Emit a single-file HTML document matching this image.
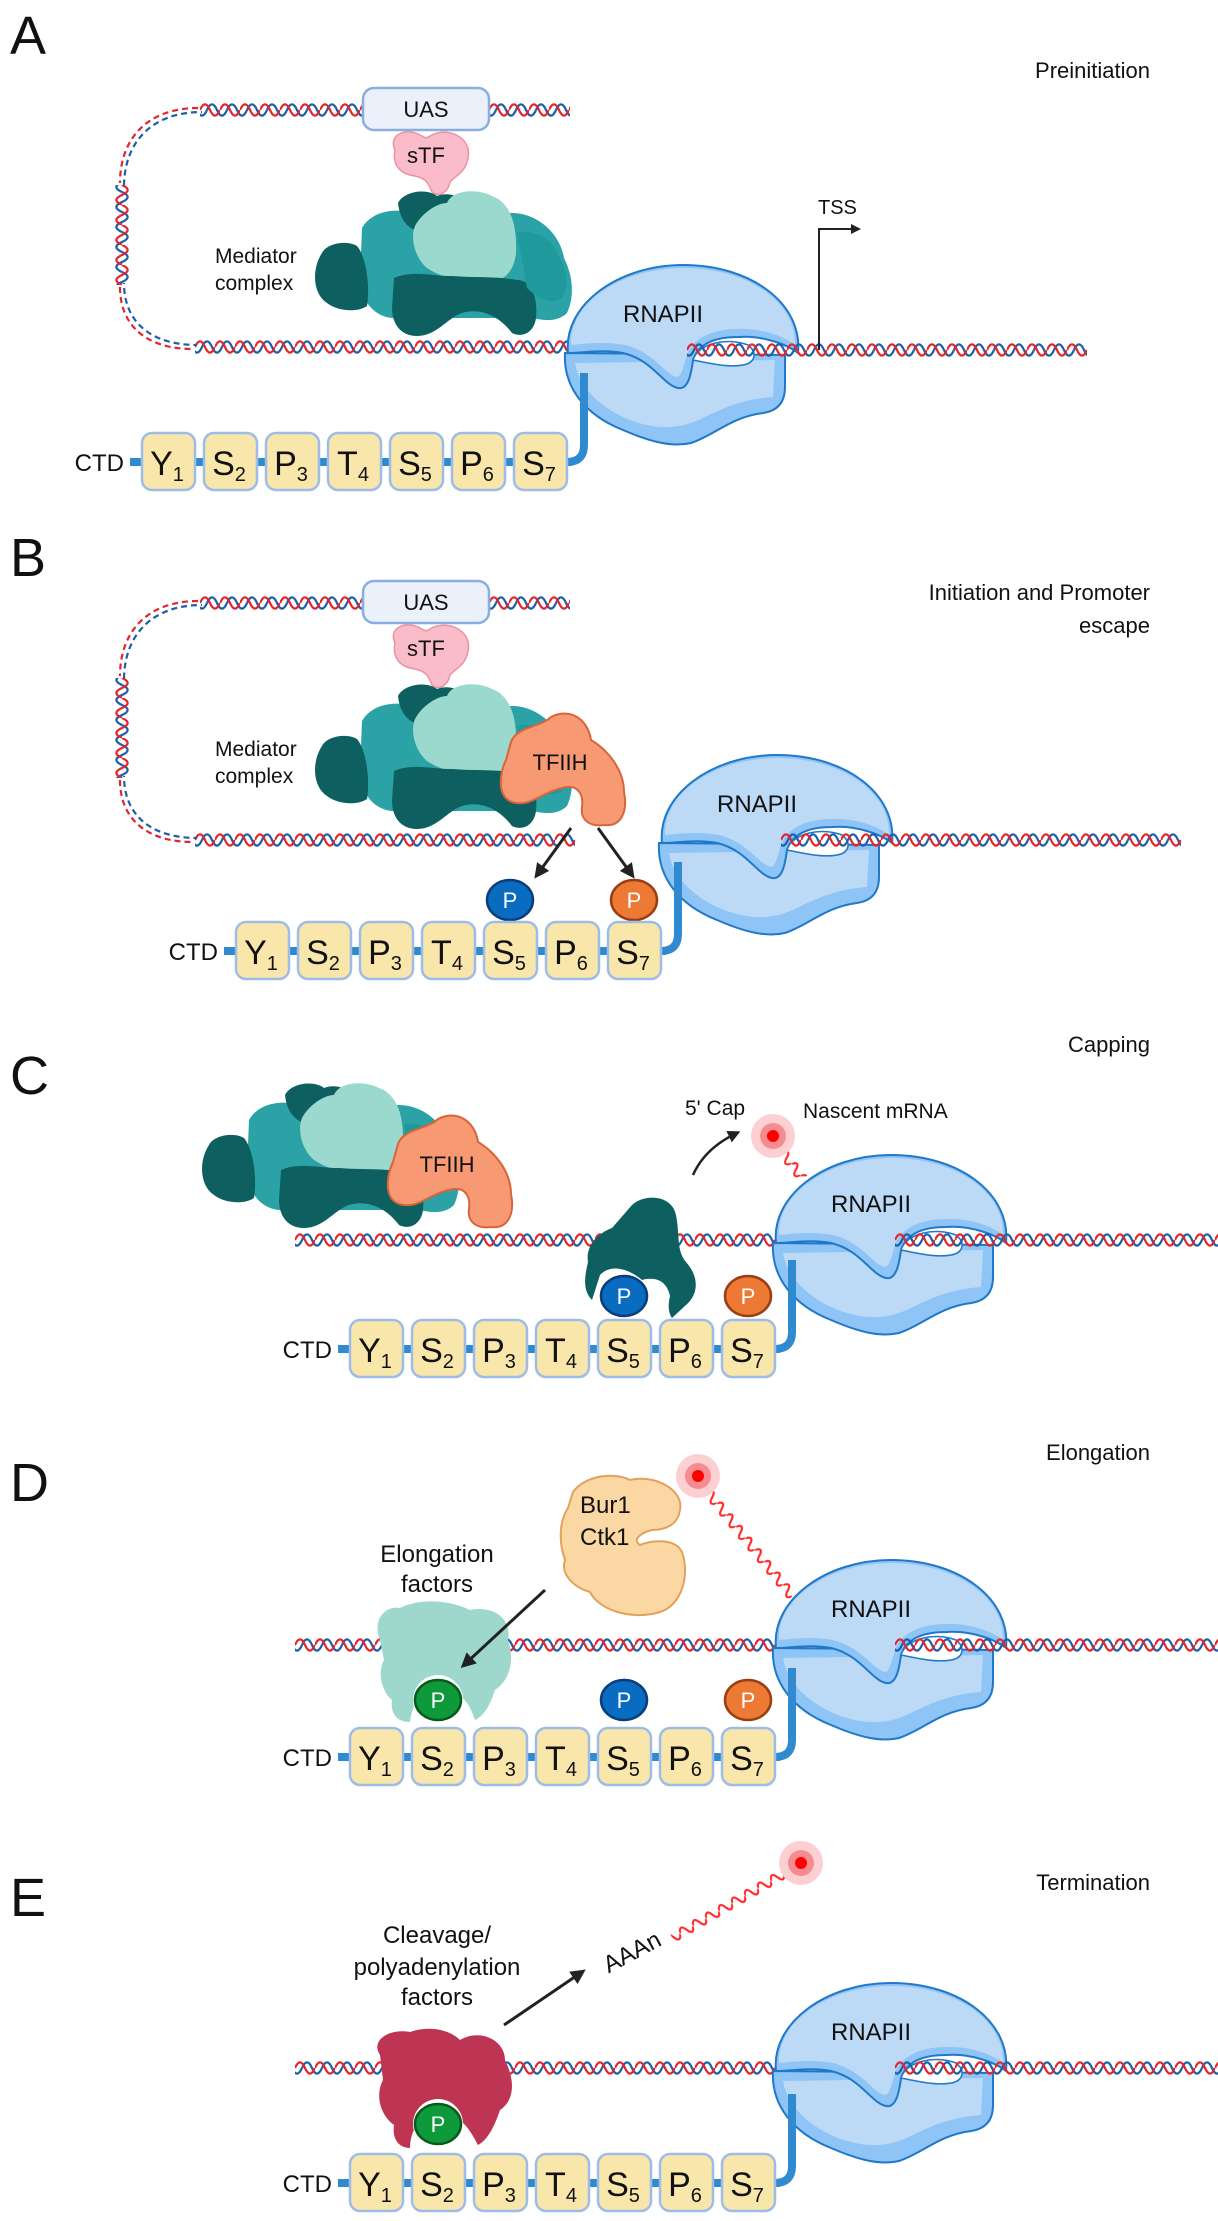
<!DOCTYPE html>
<html><head><meta charset="utf-8">
<style>
html,body{margin:0;padding:0;background:#fff;}
svg{display:block;}
text{font-family:"Liberation Sans",sans-serif;fill:#111;}
.lbl{font-size:21px;}
.ttl{font-size:22px;text-anchor:end;}
.big{font-size:54px;font-family:"Liberation Sans Narrow","Liberation Sans",sans-serif;}
.pt{font-size:22px;fill:#fff;text-anchor:middle;}
.bx{font-size:34px;text-anchor:middle;}
</style></head>
<body>
<svg width="1218" height="2221" viewBox="0 0 1218 2221" xmlns="http://www.w3.org/2000/svg">
<defs>
 <pattern id="dna" x="0" y="-7" width="20" height="14" patternUnits="userSpaceOnUse">
  <path d="M0,7 C3.3,-0.5 6.7,-0.5 10,7 S16.7,14.5 20,7" fill="none" stroke="#1d5fa8" stroke-width="2.2" transform="translate(7,0)"/>
  <path d="M0,7 C3.3,-0.5 6.7,-0.5 10,7 S16.7,14.5 20,7" fill="none" stroke="#1d5fa8" stroke-width="2.2" transform="translate(-13,0)"/>
  <path d="M0,7 C3.3,-0.5 6.7,-0.5 10,7 S16.7,14.5 20,7" fill="none" stroke="#e3262c" stroke-width="2.2"/>
 </pattern>
 <pattern id="rna" x="0" y="-6" width="15" height="12" patternUnits="userSpaceOnUse">
  <path d="M0,6 C2.5,0 5,0 7.5,6 S12.5,12 15,6" fill="none" stroke="#ff2a2a" stroke-width="2.2"/>
 </pattern>
 <marker id="ah" viewBox="0 0 10 10" refX="7" refY="5" markerWidth="5" markerHeight="5" orient="auto"><path d="M0,0 L10,5 L0,10 Z" fill="#222"/></marker>
 <g id="rnap">
  <path d="M2,88 C0,122 22,150 60,165 C90,178 110,182 128,178 C152,170 168,152 200,148 C214,146 222,138 222,122 L222,90 Z" fill="#8ec4f6" stroke="#1f78c8" stroke-width="2"/>
  <path d="M12,98 C16,124 42,148 76,158 C100,165 120,163 140,153 C162,142 182,134 210,132 L212,95 Z" fill="#bcd9f6"/>
  <path d="M5,88 C0,40 55,0 120,0 C190,0 240,40 235,88 C225,80 200,70 175,72 C150,72 135,80 130,95 C128,110 125,125 115,123 C100,120 90,95 60,88 C40,84 20,88 5,88 Z" fill="#8ec4f6" stroke="#1f78c8" stroke-width="2"/>
  <path d="M8,80 C6,38 58,3 120,3 C186,3 234,38 232,80 C222,72 200,63 175,64 C148,64 130,74 124,90 C120,104 118,112 114,112 C102,110 92,88 62,80 C40,76 20,79 8,80 Z" fill="#bcd9f6"/>
  <path d="M130,95 C135,78 165,72 185,80 C195,88 192,98 180,100 C165,103 145,98 130,95 Z" fill="#fff" stroke="#1f78c8" stroke-width="1.5"/>
  <text x="60" y="57" style="font-size:24px">RNAPII</text>
 </g>
 <g id="med">
  <path d="M50,40 C60,22 85,20 100,25 L200,25 C225,25 248,45 252,70 C262,90 262,110 255,125 C245,135 230,132 220,130 L80,130 C60,128 48,110 48,90 Z" fill="#2ba3a6"/>
  <path d="M10,65 C15,55 35,52 45,58 C55,70 58,100 55,118 C45,125 25,123 15,115 C0,105 0,80 10,65 Z" fill="#0e5f5f"/>
  <path d="M86,15 C92,3 115,0 125,8 C140,2 158,12 158,28 C150,45 130,45 115,44 C100,45 88,35 86,15 Z" fill="#0e5f5f"/>
  <path d="M103,38 C110,25 125,15 135,15 C140,2 165,0 180,8 C200,15 205,40 204,65 C202,85 190,95 175,93 C150,95 130,90 115,80 C103,70 98,50 103,38 Z" fill="#9bd9cf"/>
  <path d="M82,90 C100,82 120,88 140,88 C165,90 185,88 205,92 C220,92 226,110 224,130 C222,145 210,150 200,145 C185,125 165,120 150,125 C135,130 125,148 105,148 C88,148 80,135 80,120 Z" fill="#0e5f5f"/>
  <path d="M205,45 C220,40 240,50 245,65 C255,80 258,100 250,110 C240,118 225,110 215,100 Z" fill="#1f9a9c"/>
 </g>
 <path id="tfiih" d="M15,30 C20,15 45,15 55,5 C75,-5 92,8 95,28 C112,38 128,58 128,80 C132,100 125,115 108,113 C94,115 84,108 86,95 C88,80 80,72 66,76 C46,80 34,96 16,90 C0,84 4,60 10,48 Z" fill="#f79a74" stroke="#d9643a" stroke-width="2"/>
 <g id="ctd">
  <text x="-18" y="38" text-anchor="end" style="font-size:24px">CTD</text>
  <path d="M-12,29 L430,29" stroke="#2f8ad0" stroke-width="8"/>
  <path d="M425,29 Q442,29 442,12 L442,-60" stroke="#2f8ad0" stroke-width="8" fill="none"/>
  <g fill="#f9e6ab" stroke="#9dbde8" stroke-width="2.5">
   <rect x="0" y="0" width="53" height="57" rx="10"/><rect x="62" y="0" width="53" height="57" rx="10"/><rect x="124" y="0" width="53" height="57" rx="10"/><rect x="186" y="0" width="53" height="57" rx="10"/><rect x="248" y="0" width="53" height="57" rx="10"/><rect x="310" y="0" width="53" height="57" rx="10"/><rect x="372" y="0" width="53" height="57" rx="10"/>
  </g>
  <text x="25" y="42" class="bx">Y<tspan dy="6" style="font-size:20px">1</tspan></text>
  <text x="87" y="42" class="bx">S<tspan dy="6" style="font-size:20px">2</tspan></text>
  <text x="149" y="42" class="bx">P<tspan dy="6" style="font-size:20px">3</tspan></text>
  <text x="211" y="42" class="bx">T<tspan dy="6" style="font-size:20px">4</tspan></text>
  <text x="273" y="42" class="bx">S<tspan dy="6" style="font-size:20px">5</tspan></text>
  <text x="335" y="42" class="bx">P<tspan dy="6" style="font-size:20px">6</tspan></text>
  <text x="397" y="42" class="bx">S<tspan dy="6" style="font-size:20px">7</tspan></text>
 </g>
 <g id="loop">
  <g transform="translate(489,110)"><rect x="0" y="-7" width="81" height="14" fill="url(#dna)"/></g>
  <g transform="translate(200,110)"><rect x="0" y="-7" width="163" height="14" fill="url(#dna)"/></g>
  <g transform="translate(122,185) rotate(90)"><rect x="0" y="-7" width="100" height="14" fill="url(#dna)"/></g>
  <g transform="translate(195,347)"><rect x="0" y="-7" width="380" height="14" fill="url(#dna)"/></g>
  <path d="M200,110 C150,110 122,140 122,185" fill="none" stroke="#e3262c" stroke-width="2.2" stroke-dasharray="6 4" transform="translate(-2,-2)"/>
  <path d="M200,110 C150,110 122,140 122,185" fill="none" stroke="#1d5fa8" stroke-width="2.2" stroke-dasharray="6 4" stroke-dashoffset="5" transform="translate(2,2)"/>
  <path d="M122,285 C122,325 150,347 195,347" fill="none" stroke="#e3262c" stroke-width="2.2" stroke-dasharray="6 4" transform="translate(-2,2)"/>
  <path d="M122,285 C122,325 150,347 195,347" fill="none" stroke="#1d5fa8" stroke-width="2.2" stroke-dasharray="6 4" stroke-dashoffset="5" transform="translate(2,-2)"/>
  <rect x="363" y="88" width="126" height="42" rx="11" fill="#eaf1fb" stroke="#8aaee0" stroke-width="2.5"/>
  <text x="426" y="117" text-anchor="middle" style="font-size:22px">UAS</text>
  <path d="M395,150 C388,135 405,128 418,134 L426,138 L434,134 C450,128 472,138 468,158 C466,172 455,176 450,182 C448,192 440,198 432,192 C428,182 425,178 415,176 C400,174 392,165 395,150 Z" fill="#f9bcc8" stroke="#ea93a6" stroke-width="1.5"/>
  <text x="426" y="163" text-anchor="middle" style="font-size:22px">sTF</text>
  <use href="#med" x="312" y="188"/>
  <text x="215" y="263" class="lbl">Mediator</text>
  <text x="215" y="290" class="lbl">complex</text>
 </g>
 <g id="dot"><circle r="22" fill="#fcd0d2"/><circle r="13" fill="#f78c90"/><circle r="6" fill="#f00"/></g>
</defs>

<!-- Panel A -->
<text x="10" y="54" class="big">A</text>
<text x="1150" y="78" class="ttl">Preinitiation</text>
<use href="#loop"/>
<use href="#rnap" x="563" y="265"/>
<g transform="translate(687,350)"><rect x="0" y="-7" width="400" height="14" fill="url(#dna)"/></g>
<path d="M819,350 L819,229 L858,229" fill="none" stroke="#222" stroke-width="2" marker-end="url(#ah)"/>
<text x="818" y="214" style="font-size:20px">TSS</text>
<use href="#ctd" x="142" y="433"/>

<!-- Panel B -->
<text x="10" y="576" class="big">B</text>
<text x="1150" y="600" class="ttl">Initiation and Promoter</text>
<text x="1150" y="633" class="ttl">escape</text>
<use href="#loop" y="493"/>
<use href="#tfiih" x="496" y="712"/>
<text x="560" y="770" text-anchor="middle" style="font-size:22px">TFIIH</text>
<use href="#rnap" x="657" y="755"/>
<g transform="translate(781,840)"><rect x="0" y="-7" width="400" height="14" fill="url(#dna)"/></g>
<path d="M571,828 L537,875" stroke="#222" stroke-width="3" marker-end="url(#ah)"/>
<path d="M598,828 L632,875" stroke="#222" stroke-width="3" marker-end="url(#ah)"/>
<ellipse cx="510" cy="900" rx="23" ry="20" fill="#0a6cc0" stroke="#0a3d7a" stroke-width="2.5"/><text x="510" y="908" class="pt">P</text>
<ellipse cx="634" cy="900" rx="23" ry="20" fill="#ec7a35" stroke="#9a3d12" stroke-width="2.5"/><text x="634" y="908" class="pt">P</text>
<use href="#ctd" x="236" y="922"/>

<!-- Panel C -->
<text x="10" y="1094" class="big">C</text>
<text x="1150" y="1052" class="ttl">Capping</text>
<g transform="translate(295,1240)"><rect x="0" y="-7" width="485" height="14" fill="url(#dna)"/></g>
<use href="#med" x="199" y="1080"/>
<use href="#tfiih" x="383" y="1114"/>
<text x="447" y="1172" text-anchor="middle" style="font-size:22px">TFIIH</text>
<use href="#rnap" x="771" y="1155"/>
<g transform="translate(895,1240)"><rect x="0" y="-7" width="323" height="14" fill="url(#dna)"/></g>
<path d="M588,1262 C585,1245 600,1232 612,1228 L632,1205 C645,1193 672,1195 676,1215 C680,1235 676,1250 686,1262 C700,1278 698,1295 686,1305 L672,1318 C668,1312 668,1305 670,1296 C667,1282 657,1276 642,1280 C628,1268 610,1264 600,1275 L592,1300 C582,1290 585,1275 588,1262 Z" fill="#0e5f5f"/>
<ellipse cx="624" cy="1296" rx="23" ry="20" fill="#0a6cc0" stroke="#0a3d7a" stroke-width="2.5"/><text x="624" y="1304" class="pt">P</text>
<ellipse cx="748" cy="1296" rx="23" ry="20" fill="#ec7a35" stroke="#9a3d12" stroke-width="2.5"/><text x="748" y="1304" class="pt">P</text>
<path d="M693,1175 Q705,1148 737,1133" fill="none" stroke="#222" stroke-width="2.5" marker-end="url(#ah)"/>
<text x="685" y="1115" style="font-size:21px">5' Cap</text>
<text x="803" y="1118" style="font-size:21px">Nascent mRNA</text>
<g transform="translate(773,1140) rotate(52.4)"><rect x="0" y="-6" width="49" height="12" fill="url(#rna)"/></g>
<use href="#dot" x="773" y="1136"/>
<use href="#ctd" x="350" y="1320"/>

<!-- Panel D -->
<text x="10" y="1501" class="big">D</text>
<text x="1150" y="1460" class="ttl">Elongation</text>
<g transform="translate(295,1645)"><rect x="0" y="-7" width="485" height="14" fill="url(#dna)"/></g>
<path d="M380,1640 C372,1620 385,1605 400,1608 C420,1598 450,1600 470,1610 C495,1605 512,1620 508,1640 C515,1660 510,1680 495,1690 C490,1705 485,1715 475,1720 C470,1705 462,1690 440,1688 C420,1690 412,1705 410,1722 C398,1722 390,1715 392,1700 C380,1690 378,1670 384,1660 Z" fill="#9ed8cd"/>
<circle cx="438" cy="1700" r="25" fill="#fff"/>
<ellipse cx="438" cy="1700" rx="23" ry="20" fill="#0e9a3a" stroke="#0a5a1e" stroke-width="2.5"/><text x="438" y="1708" class="pt">P</text>
<ellipse cx="624" cy="1700" rx="23" ry="20" fill="#0a6cc0" stroke="#0a3d7a" stroke-width="2.5"/><text x="624" y="1708" class="pt">P</text>
<ellipse cx="748" cy="1700" rx="23" ry="20" fill="#ec7a35" stroke="#9a3d12" stroke-width="2.5"/><text x="748" y="1708" class="pt">P</text>
<path d="M573,1492 C585,1475 615,1472 630,1480 C655,1474 684,1490 680,1510 C678,1525 665,1530 652,1530 C640,1533 632,1540 640,1545 C652,1540 675,1538 682,1552 C690,1575 682,1605 660,1612 C635,1620 600,1612 590,1592 C575,1588 560,1575 565,1560 C558,1540 560,1520 568,1508 Z" fill="#fbd7a4" stroke="#e0a25c" stroke-width="2"/>
<text x="580" y="1513" style="font-size:24px">Bur1</text>
<text x="580" y="1545" style="font-size:24px">Ctk1</text>
<text x="437" y="1562" text-anchor="middle" style="font-size:24px">Elongation</text>
<text x="437" y="1592" text-anchor="middle" style="font-size:24px">factors</text>
<path d="M545,1590 L464,1665" stroke="#222" stroke-width="3" marker-end="url(#ah)"/>
<use href="#rnap" x="771" y="1560"/>
<g transform="translate(895,1645)"><rect x="0" y="-7" width="323" height="14" fill="url(#dna)"/></g>
<g transform="translate(698,1480) rotate(51)"><rect x="0" y="-6" width="150" height="12" fill="url(#rna)"/></g>
<use href="#dot" x="698" y="1476"/>
<use href="#ctd" x="350" y="1728"/>

<!-- Panel E -->
<text x="10" y="1916" class="big">E</text>
<text x="1150" y="1890" class="ttl">Termination</text>
<g transform="translate(295,2068)"><rect x="0" y="-7" width="485" height="14" fill="url(#dna)"/></g>
<path d="M380,2055 C370,2040 390,2028 410,2032 C430,2025 450,2030 460,2040 C480,2028 505,2040 505,2060 C515,2080 515,2100 500,2110 C495,2125 488,2140 478,2145 C470,2130 462,2115 440,2113 C420,2115 410,2130 410,2148 C398,2148 392,2138 394,2125 C380,2115 375,2095 383,2080 Z" fill="#bd3552"/>
<circle cx="438" cy="2124" r="25" fill="#fff"/>
<ellipse cx="438" cy="2124" rx="23" ry="20" fill="#0e9a3a" stroke="#0a5a1e" stroke-width="2.5"/><text x="438" y="2132" class="pt">P</text>
<text x="437" y="1943" text-anchor="middle" style="font-size:24px">Cleavage/</text>
<text x="437" y="1975" text-anchor="middle" style="font-size:24px">polyadenylation</text>
<text x="437" y="2005" text-anchor="middle" style="font-size:24px">factors</text>
<path d="M504,2025 L582,1972" stroke="#222" stroke-width="3" marker-end="url(#ah)"/>
<text x="632" y="1960" text-anchor="middle" transform="rotate(-28 632 1952)" style="font-size:24px">AAAn</text>
<g transform="translate(797,1866) rotate(150)"><rect x="0" y="-6" width="144" height="12" fill="url(#rna)"/></g>
<use href="#dot" x="801" y="1863"/>
<use href="#rnap" x="771" y="1983"/>
<g transform="translate(895,2068)"><rect x="0" y="-7" width="323" height="14" fill="url(#dna)"/></g>
<use href="#ctd" x="350" y="2154"/>
</svg>
</body></html>
